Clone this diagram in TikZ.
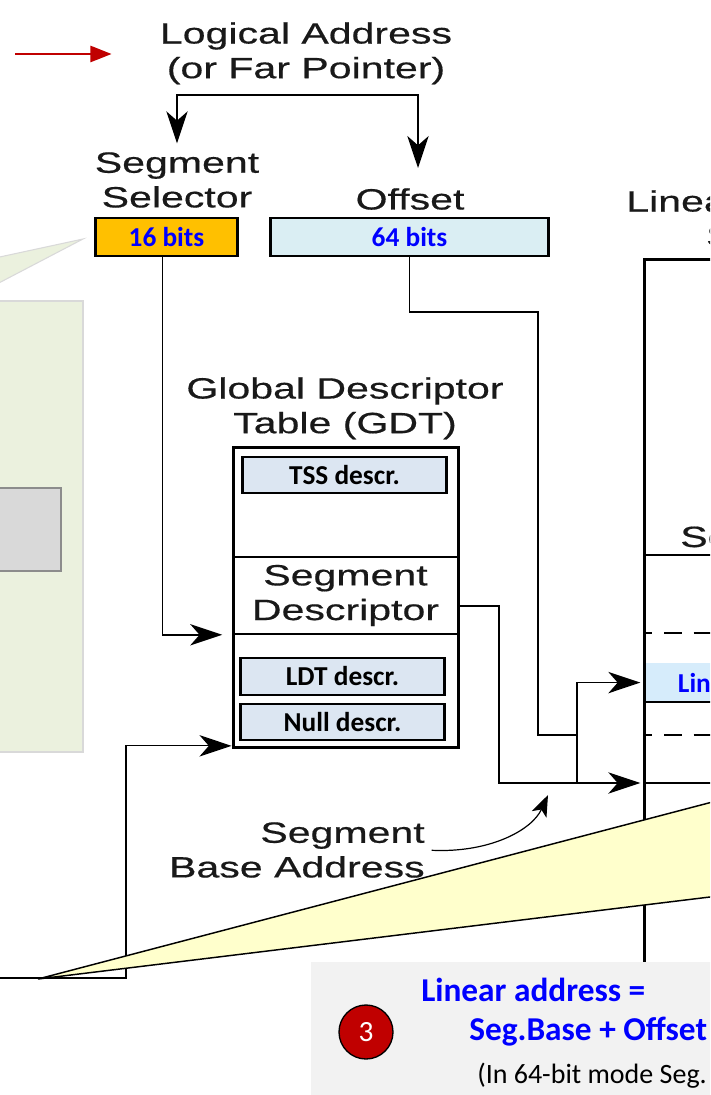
\documentclass[tikz,border=0pt]{standalone}
\usepackage{fontspec}
\setmainfont{Carlito}
\newfontfamily\figfont[FakeStretch=1.4, FakeBold=0.5]{Liberation Sans}
\usetikzlibrary{arrows.meta,positioning}

\definecolor{selorange}{HTML}{FFC000}
\definecolor{offblue}{HTML}{DAEEF3}
\definecolor{descblue}{HTML}{DCE6F2}
\definecolor{linblue}{HTML}{D6ECFB}
\definecolor{notegreen}{HTML}{EBF1DE}
\definecolor{calloutyellow}{HTML}{FFFFCC}
\definecolor{notegray}{HTML}{F2F2F2}
\definecolor{stepred}{HTML}{C00000}

\begin{document}
\begin{tikzpicture}[x=0.75pt, y=-0.75pt,
    figtext/.style={font=\figfont\fontsize{22}{26}\selectfont, text=black!90, inner sep=0pt, align=center},
    bitbox/.style={draw, line width=2.2pt, minimum height=28.5pt, font=\bfseries\fontsize{20.5}{24}\selectfont, text=blue},
    descbox/.style={draw, line width=1.6pt, fill=descblue, minimum width=153pt, minimum height=27.5pt, inner sep=0pt, font=\bfseries\fontsize{20.5}{24}\selectfont},
    bigarrow/.style={-{Stealth[length=24pt, width=16pt, inset=7pt]}, line width=1.3pt},
    notetext/.style={anchor=base west, inner sep=0pt, font=\bfseries\fontsize{25}{30}\selectfont, text=blue}]
    \useasboundingbox (0,0) rectangle (710,1095);
    \clip (0,0) rectangle (710,1095);

    % note panel on the left
    \filldraw[fill=notegreen, draw=black!15, line width=0.8pt] (83,239) -- (-5,258) -- (-5,285) -- cycle;
    \filldraw[fill=notegreen, draw=black!15, line width=0.8pt] (-5,301) rectangle (83,752);
    \filldraw[fill=black!15, draw=black!45, line width=1.5pt] (-5,488) rectangle (61,571);

    %%%% logical address
    \node[figtext, anchor=north] (logical) at (306,22) {Logical Address\\(or Far Pointer)};
    \coordinate (pointer) at (15,54);
    \draw[-{Triangle[length=16pt, width=12pt]}, line width=2.2pt, stepred, shorten >=36pt]
      (pointer) -- (pointer -| logical.west);

    \node[figtext, anchor=north] (selname) at (177,152) {Segment\\Selector};
    \node[figtext, anchor=north] (offname) at (410,188) {Offset};
    \coordinate (split) at (300,95);
    \draw[bigarrow, shorten >=6.5pt] (split) -| (selname.north);
    \draw[bigarrow, shorten >=15pt] (split) -| ([xshift=6pt]offname.north);

    \node[bitbox, fill=selorange, minimum width=107pt] (selbox) at (166.5,237) {16 bits};
    \node[bitbox, fill=offblue, minimum width=209pt] (offbox) at (409.5,237) {64 bits};

    %%%% GDT
    \node[figtext, anchor=north] (gdtname) at (345,377) {Global Descriptor\\Table (GDT)};
    \node[figtext, draw, line width=1.2pt, minimum width=168.75pt, minimum height=57.75pt]
      (segdesc) at (345.5,595.5) {Segment\\Descriptor};
    \node[draw, line width=2.25pt, minimum width=168.75pt, minimum height=225pt] (gdt) at (345.5,597) {};
    \node[descbox] (tss) at (344.5,475) {TSS descr.};
    \node[descbox] (ldt) at (342.5,676.5) {LDT descr.};
    \node[descbox] (nulld) at (342.5,722) {Null descr.};

    %%%% linear address space
    \node[figtext, anchor=north west] (linname) at (626,190) {Linear Address\\Space};
    \node[figtext, anchor=base west] (segname) at (680,547) {Segment};
    \draw[line width=1.2pt] (643,555) -- (800,555);
    \draw[line width=1.2pt, dash pattern=on 13pt off 9pt, dash phase=6pt] (643,633) -- (800,633);
    \node[fill=linblue, anchor=north west, minimum height=29pt, text width=200pt, inner xsep=26pt,
      align=left, font=\bfseries\fontsize{20.5}{24}\selectfont, text=blue] (linbox) at (643,663) {Linear Address};
    \draw[line width=1.2pt] (643,702) -- (800,702);
    \draw[line width=1.2pt, dash pattern=on 13pt off 9pt, dash phase=6pt] (643,735) -- (800,735);
    \coordinate (base) at (643,783);
    \draw[line width=1.2pt] (base) -- (800,783);
    \node[draw, line width=2.25pt, anchor=north west, minimum width=225pt, minimum height=675pt] (linspace) at (643,258) {};

    %%%% connectors
    \draw[bigarrow, shorten >=7.5pt] ([xshift=-3pt]selbox.south) |- (segdesc.south west);
    \coordinate (join) at (577,735);
    \draw[line width=1.3pt] (offbox.south) |- (538,312) |- (join) -- (join |- base);
    \draw[bigarrow, shorten >=2pt] (join) |- (linbox.west);
    \draw[bigarrow, shorten >=2pt] ([yshift=-8pt]segdesc.east) -| (499,783) -- (base);
    \coordinate (leftin) at (-5,978);
    \draw[bigarrow, line width=0.8pt] (leftin) -- (126,978) |- ([yshift=2pt]gdt.south west);

    %%%% base address label
    \node[figtext, align=right, anchor=north east] (basename) at (425,822) {Segment\\Base Address};
    \coordinate (basetip) at (548,795);
    \draw[-{Stealth[length=16pt, width=12pt, inset=4pt]}, line width=0.9pt, shorten <=5pt]
      (basename.east) .. controls (490,853) and (532,830) .. (basetip);

    % callout
    \draw[fill=calloutyellow, line width=1.1pt] (38,979) -- (800,779) -- (800,886) -- cycle;

    %%%% note box
    \fill[notegray] (311,962) rectangle (800,1100);
    \node[circle, draw, line width=1pt, fill=stepred, minimum size=40.5pt, inner sep=0pt, text=white,
      font=\fontsize{22}{24}\selectfont] (stepmark) at (366,1032) {3};
    \node[notetext] (linaddr) at (421,1001) {Linear address =};
    \node[notetext] (segsum) at (469,1040) {Seg.Base + Offset};
    \node[anchor=base west, inner sep=0pt, font=\fontsize{21}{24}\selectfont] (modenote) at (477,1083) {(In 64-bit mode Seg.};
\end{tikzpicture}
\end{document}
